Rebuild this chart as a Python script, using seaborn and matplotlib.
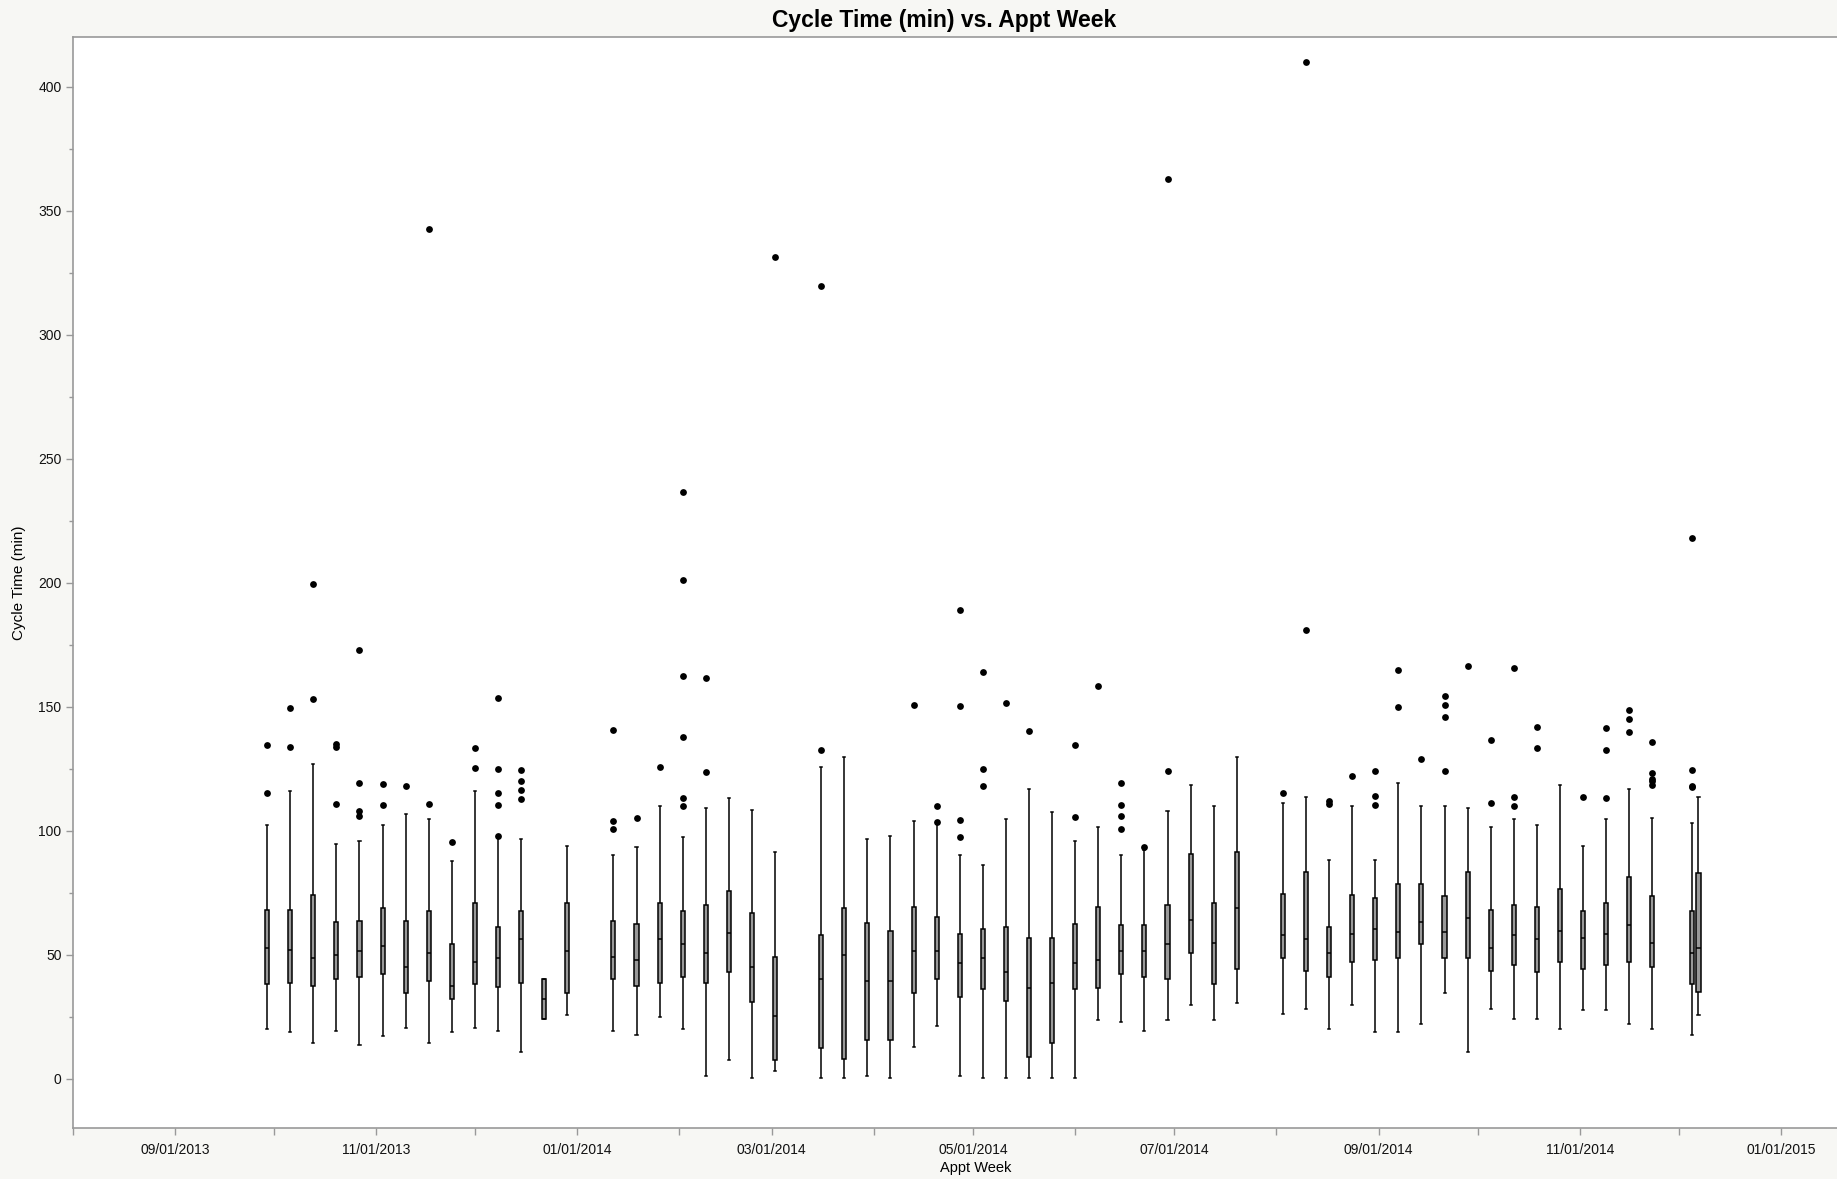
import matplotlib
matplotlib.use("Agg")
import matplotlib.pyplot as plt
import matplotlib.dates as mdates
from matplotlib.ticker import MultipleLocator
import numpy as np
import pandas as pd
import seaborn as sns

# ------------------------------------------------------------------
# Weekly cycle time summaries
# ------------------------------------------------------------------
week_start = [
    "2013-09-29", "2013-10-06", "2013-10-13", "2013-10-20", "2013-10-27",
    "2013-11-03", "2013-11-10", "2013-11-17", "2013-11-24", "2013-12-01",
    "2013-12-08", "2013-12-15", "2013-12-22", "2013-12-29", "2014-01-12",
    "2014-01-19", "2014-01-26", "2014-02-02", "2014-02-09", "2014-02-16",
    "2014-02-23", "2014-03-02", "2014-03-16", "2014-03-23", "2014-03-30",
    "2014-04-06", "2014-04-13", "2014-04-20", "2014-04-27", "2014-05-04",
    "2014-05-11", "2014-05-18", "2014-05-25", "2014-06-01", "2014-06-08",
    "2014-06-15", "2014-06-22", "2014-06-29", "2014-07-06", "2014-07-13",
    "2014-07-20", "2014-08-03", "2014-08-10", "2014-08-17", "2014-08-24",
    "2014-08-31", "2014-09-07", "2014-09-14", "2014-09-21", "2014-09-28",
    "2014-10-05", "2014-10-12", "2014-10-19", "2014-10-26", "2014-11-02",
    "2014-11-09", "2014-11-16", "2014-11-23", "2014-12-05", "2014-12-07",
]
whisker_low = [
    19.9, 18.6, 14.2, 19.2, 13.5, 17.2, 20.3, 14.2, 18.6, 20.3,
    19.2, 10.8, 24.0, 25.5, 19.2, 17.7, 24.7, 19.9, 1.0, 7.4,
    0.3, 3.0, 0.3, 0.3, 1.0, 0.3, 12.8, 21.3, 1.0, 0.3,
    0.3, 0.3, 0.3, 0.3, 23.5, 22.8, 19.2, 23.5, 29.6, 23.5,
    30.3, 26.2, 28.2, 19.9, 29.6, 18.6, 18.6, 22.0, 34.6, 10.8,
    28.2, 24.0, 24.0, 19.9, 27.6, 27.6, 22.0, 19.9, 17.6, 25.5,
]
q1 = [
    38.0, 38.7, 37.4, 40.1, 40.8, 42.1, 34.6, 39.4, 32.3, 38.0,
    37.1, 38.7, 24.0, 34.6, 40.1, 37.4, 38.7, 40.8, 38.7, 42.8,
    30.8, 7.4, 12.2, 8.1, 15.6, 15.6, 34.4, 40.1, 33.0, 36.0,
    31.2, 8.8, 14.2, 36.0, 36.7, 42.1, 40.8, 40.1, 50.6, 38.0,
    44.2, 48.6, 43.5, 40.8, 47.2, 47.9, 48.6, 54.1, 48.6, 48.6,
    43.5, 45.8, 42.8, 47.2, 44.2, 45.8, 47.2, 45.1, 38.0, 35.0,
]
median = [
    52.8, 52.0, 48.6, 49.9, 51.3, 53.5, 45.1, 50.6, 37.4, 47.2,
    48.6, 56.2, 32.3, 51.3, 49.2, 47.9, 56.2, 54.1, 50.6, 58.9,
    45.1, 25.4, 40.1, 49.9, 39.4, 39.4, 51.3, 51.3, 46.5, 48.6,
    43.1, 36.7, 38.7, 46.5, 47.9, 51.3, 51.3, 54.1, 63.9, 54.8,
    68.7, 57.8, 56.2, 50.7, 58.5, 60.5, 59.2, 63.3, 59.2, 64.6,
    52.8, 57.8, 56.2, 59.6, 56.9, 58.5, 61.9, 54.8, 50.6, 52.8,
]
q3 = [
    68.0, 68.0, 74.2, 63.0, 63.7, 68.7, 63.7, 67.4, 54.1, 70.8,
    61.2, 67.4, 40.1, 70.8, 63.7, 62.3, 70.8, 67.4, 70.1, 75.5,
    66.7, 49.0, 57.8, 68.7, 62.6, 59.6, 69.4, 65.3, 58.2, 60.3,
    61.0, 56.9, 56.9, 62.3, 69.4, 61.9, 61.9, 70.1, 90.5, 70.8,
    91.2, 74.4, 83.5, 61.0, 74.2, 72.8, 78.5, 78.5, 73.8, 83.5,
    68.0, 70.1, 69.4, 76.5, 67.4, 70.8, 81.3, 73.8, 67.4, 82.8,
]
whisker_high = [
    102.1, 115.9, 126.7, 94.6, 96.0, 102.1, 106.6, 104.5, 87.8, 115.9,
    97.4, 96.7, 40.1, 93.9, 90.3, 93.3, 109.9, 97.4, 109.2, 113.3,
    108.5, 91.2, 125.7, 129.7, 96.7, 98.0, 103.8, 102.8, 90.3, 86.2,
    104.5, 116.9, 107.6, 96.0, 101.4, 90.3, 92.3, 107.9, 118.5, 110.0,
    129.7, 111.0, 113.4, 88.2, 109.9, 88.2, 119.2, 109.9, 109.9, 109.2,
    101.4, 104.5, 102.1, 118.5, 93.9, 104.5, 116.9, 105.1, 103.1, 113.4,
]

# Outlier points (week, minutes)
outlier_week = (
    ["2013-09-29"] * 2 + ["2013-10-06"] * 2 + ["2013-10-13"] * 2
    + ["2013-10-20"] * 3 + ["2013-10-27"] * 4 + ["2013-11-03"] * 2
    + ["2013-11-10"] + ["2013-11-17"] * 2 + ["2013-11-24"] + ["2013-12-01"] * 2
    + ["2013-12-08"] * 5 + ["2013-12-15"] * 4 + ["2014-01-12"] * 3
    + ["2014-01-19"] + ["2014-01-26"] + ["2014-02-02"] * 6 + ["2014-02-09"] * 2
    + ["2014-03-02"] + ["2014-03-16"] * 2 + ["2014-04-13"] + ["2014-04-20"] * 2
    + ["2014-04-27"] * 4 + ["2014-05-04"] * 3 + ["2014-05-11"] + ["2014-05-18"]
    + ["2014-06-01"] * 2 + ["2014-06-08"] + ["2014-06-15"] * 4 + ["2014-06-22"]
    + ["2014-06-29"] * 2 + ["2014-08-03"] + ["2014-08-10"] * 2 + ["2014-08-17"] * 2
    + ["2014-08-24"] + ["2014-08-31"] * 3 + ["2014-09-07"] * 2 + ["2014-09-14"]
    + ["2014-09-21"] * 4 + ["2014-09-28"] + ["2014-10-05"] * 2 + ["2014-10-12"] * 3
    + ["2014-10-19"] * 2 + ["2014-11-02"] + ["2014-11-09"] * 3 + ["2014-11-16"] * 3
    + ["2014-11-23"] * 5 + ["2014-12-05"] * 4
)
outlier_value = [
    115.1, 134.4, 133.6, 149.4, 153.0, 199.3,
    110.7, 133.8, 134.9, 105.9, 107.9, 119.4, 173.0, 110.2, 118.8,
    118.1, 110.7, 342.6, 95.3, 125.3, 133.3,
    98.0, 110.4, 115.1, 124.9, 153.6, 112.8, 116.2, 120.1, 124.6, 100.5, 103.8, 140.7,
    105.1, 125.6, 110.0, 113.3, 137.6, 162.5, 201.0, 236.6, 123.7, 161.6,
    331.5, 132.5, 319.7, 150.5, 103.5, 110.0,
    97.4, 104.2, 150.3, 189.1, 118.1, 124.9, 163.8, 151.6, 140.0,
    105.5, 134.6, 158.3, 100.5, 105.9, 110.3, 119.2, 93.3,
    123.9, 362.8, 115.1, 180.9, 409.8, 110.7, 111.9,
    122.2, 110.3, 114.0, 123.9, 150.0, 164.8, 128.7,
    123.9, 145.8, 150.8, 154.3, 166.5, 111.0, 136.6, 109.9, 113.7, 165.5,
    133.2, 141.9, 113.7, 113.0, 132.4, 141.4, 139.6, 145.1, 148.5,
    118.5, 119.9, 120.8, 123.3, 135.8, 117.5, 118.1, 124.6, 218.2,
]

# ------------------------------------------------------------------
# Build long table: each week holds its five summary values, so that
# percentile whiskers (0, 100) reproduce the published boxes exactly
# ------------------------------------------------------------------
rows = []
for wk, lo, a, m, b, hi in zip(week_start, whisker_low, q1, median, q3, whisker_high):
    x = mdates.date2num(pd.Timestamp(wk))
    for v in (lo, a, m, b, hi):
        rows.append({"week": x, "cycle": v})
box_df = pd.DataFrame(rows)

out_df = pd.DataFrame({
    "week": [mdates.date2num(pd.Timestamp(w)) for w in outlier_week],
    "cycle": outlier_value,
})

plt.rcParams["font.family"] = ["Liberation Sans", "DejaVu Sans"]

fig = plt.figure(figsize=(18.37, 11.79), dpi=100, facecolor="#f7f7f4")
ax = fig.add_axes([0.0395, 0.0433, 0.9605, 0.9256])
ax.set_facecolor("white")

sns.boxplot(
    data=box_df, x="week", y="cycle", orient="x", native_scale=True,
    whis=(0, 100), showfliers=False, width=0.62,
    color="#999999", linecolor="black", linewidth=1.1, saturation=1,
    ax=ax,
)
sns.scatterplot(
    data=out_df, x="week", y="cycle", color="black", s=24,
    linewidth=0, ax=ax, zorder=5,
)

# Axes limits and ticks
ax.set_xlim(mdates.date2num(pd.Timestamp("2013-08-01")),
            mdates.date2num(pd.Timestamp("2015-01-18")))
ax.set_ylim(-19.9, 420.2)

ax.xaxis.set_major_locator(mdates.MonthLocator(bymonth=[1, 3, 5, 7, 9, 11]))
ax.xaxis.set_minor_locator(mdates.MonthLocator(bymonth=[2, 4, 6, 8, 10, 12]))
ax.xaxis.set_major_formatter(mdates.DateFormatter("%m/%d/%Y"))
ax.yaxis.set_major_locator(MultipleLocator(50))
ax.yaxis.set_minor_locator(MultipleLocator(25))

ax.tick_params(axis="both", which="major", direction="out", length=5,
               width=1, color="#999999", labelsize=10, labelcolor="#111111")
ax.tick_params(axis="x", which="minor", direction="out", length=5,
               width=1, color="#999999")
ax.tick_params(axis="y", which="minor", direction="out", length=3,
               width=1, color="#999999")
ax.tick_params(axis="x", which="major", pad=6)
ax.tick_params(axis="y", which="major", pad=3)

for side in ("left", "bottom", "top"):
    ax.spines[side].set_color("#999999")
    ax.spines[side].set_linewidth(1.2)
ax.spines["right"].set_visible(False)

ax.set_xlabel("")
ax.set_ylabel("")
fig.text(0.0105, 0.506, "Cycle Time (min)", rotation=90, ha="center",
         va="center", fontsize=11)
fig.text(0.5313, 0.0093, "Appt Week", ha="center", va="center", fontsize=10.5)
fig.text(0.5138, 0.983, "Cycle Time (min) vs. Appt Week", ha="center",
         va="center", fontsize=16.5, fontweight="bold")

fig.savefig("out.png", dpi=100, facecolor=fig.get_facecolor())
